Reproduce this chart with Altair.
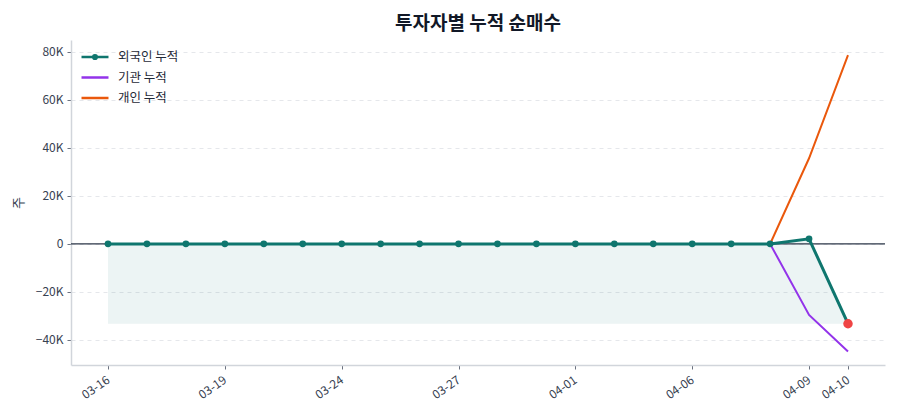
import altair as alt
import pandas as pd

dates = ["03-16", "03-17", "03-18", "03-19", "03-20", "03-23", "03-24", "03-25", "03-26", "03-27",
         "03-30", "03-31", "04-01", "04-02", "04-03", "04-06", "04-07", "04-08", "04-09", "04-10"]
foreign = [0] * 18 + [2100, -33300]
institution = [0] * 18 + [-29600, -44900]
individual = [0] * 18 + [35700, 78700]
tick_idx = [0, 3, 6, 9, 12, 15, 18, 19]
names = ["외국인 누적", "기관 누적", "개인 누적"]
colors = ["#0f766e", "#9333ea", "#ea580c"]

idx = list(range(len(dates)))
fmin = min(foreign)
df_f = pd.DataFrame({"i": idx, "date": dates, "v": foreign, "base": [fmin] * len(idx), "s": names[0]})
df_o = pd.concat([
    pd.DataFrame({"i": idx, "date": dates, "v": institution, "s": names[1]}),
    pd.DataFrame({"i": idx, "date": dates, "v": individual, "s": names[2]}),
])
df_last = df_f.iloc[[-1]]

FONT = "Noto Sans CJK KR"
line_path = "M-2,0H2"
dot_path = "M-2,0H2M-0.27,0A0.27,0.27 0 1,1 0.27,0A0.27,0.27 0 1,1 -0.27,0Z"
label_map = "{" + ",".join(f"{i}:'{d}'" for i, d in enumerate(dates)) + "}"
xscale = alt.Scale(domain=[-0.95, 19.95], nice=False, zero=False)
yscale = alt.Scale(domain=[-50500, 85000], nice=False, zero=False)
leg = alt.Legend(title=None, orient="none", legendX=10, legendY=9,
                 symbolSize=182, symbolStrokeWidth=2.5, symbolOffset=6, symbolOpacity=1,
                 labelOffset=15, labelFontSize=12.5, labelColor="#1f2937",
                 rowPadding=5.5, labelFont=FONT)
color = alt.Color("s:N", scale=alt.Scale(domain=names, range=colors), legend=leg)
shape = alt.Shape("s:N", scale=alt.Scale(domain=names, range=[dot_path, line_path, line_path]), legend=leg)

X = alt.X("i:Q", scale=xscale, title=None,
          axis=alt.Axis(values=tick_idx, labelExpr=f"{label_map}[datum.value]", labelAngle=-35,
                        labelAlign="right", labelBaseline="top", grid=False, labelOffset=-3,
                        tickColor="#6b7280", tickSize=4, labelColor="#374151", labelFontSize=12,
                        domainColor="#d1d5db", domainWidth=1.5, labelPadding=5))
Y = alt.Y("v:Q", scale=yscale, title="주",
          axis=alt.Axis(values=[-40000, -20000, 0, 20000, 40000, 60000, 80000],
                        labelExpr="datum.value == 0 ? '0' : format(datum.value/1000, 'd') + 'K'",
                        grid=True, gridDash=[4, 4], gridColor="#e5e7eb", tickColor="#6b7280",
                        tickSize=4, labelColor="#374151", labelFontSize=12, labelPadding=4,
                        domainColor="#d1d5db", domainWidth=1.5, titleFontSize=13,
                        titleColor="#374151", titleFontWeight="normal", titlePadding=10))

area = alt.Chart(df_f).mark_area(color="#0f766e", opacity=0.08).encode(
    x=X, y=Y, y2="base:Q")
zero = alt.Chart(pd.DataFrame({"z": [0]})).mark_rule(color="#2d3748", strokeWidth=1.2).encode(
    y=alt.Y("z:Q", scale=yscale))
others = alt.Chart(df_o).mark_line(strokeWidth=2).encode(x=X, y=Y, color=color, detail="s:N")
fline = alt.Chart(df_f).mark_line(strokeWidth=3).encode(x=X, y=Y, color=color)
ghost = alt.Chart(df_f).transform_filter("false").mark_point(filled=False, strokeWidth=2.5, opacity=1).encode(
    x=X, y=Y, color=color, shape=shape)
fpts = alt.Chart(df_f).mark_point(filled=True, size=45, opacity=1, color="#0f766e").encode(x=X, y=Y)
last = alt.Chart(df_last).mark_point(filled=True, size=90, opacity=1, color="#ef4444").encode(x=X, y=Y)

chart = alt.layer(area, others, zero, fline, ghost, fpts, last).properties(
    width=814, height=325,
    title=alt.TitleParams("투자자별 누적 순매수", fontSize=19, fontWeight="bold", color="#111827",
                          font=FONT, anchor="middle", offset=6),
    autosize=alt.AutoSizeParams(type="none"),
    padding={"left": 63, "top": 32, "right": 5, "bottom": 45},
).configure(font=FONT).configure_view(stroke=None)

chart.save("out.html", embed_options={"renderer": "svg", "actions": False})
